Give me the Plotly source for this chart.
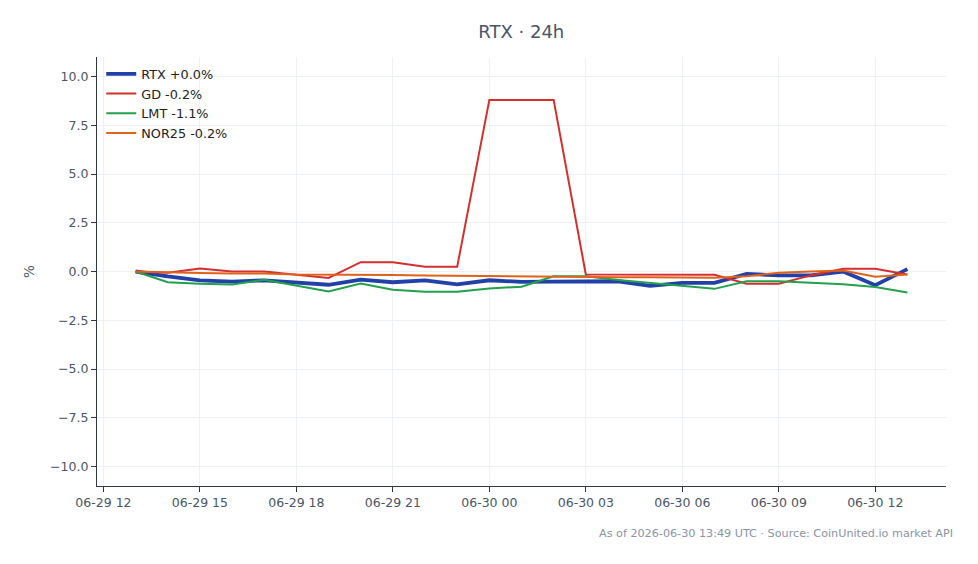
import plotly.graph_objects as go
import pandas as pd

times = pd.date_range("2026-06-29 13:00", "2026-06-30 13:00", freq="h")

rtx = [0, -0.25, -0.45, -0.52, -0.45, -0.55, -0.68, -0.42, -0.55, -0.46, -0.66, -0.45, -0.53,
       -0.52, -0.5, -0.5, -0.74, -0.58, -0.58, -0.12, -0.2, -0.2, 0.0, -0.7, 0.12]
gd = [0, -0.06, 0.15, 0.0, 0.0, -0.17, -0.33, 0.48, 0.48, 0.24, 0.24, 8.8, 8.8, 8.8,
      -0.15, -0.15, -0.15, -0.17, -0.17, -0.63, -0.63, -0.2, 0.14, 0.14, -0.15]
lmt = [0, -0.55, -0.63, -0.67, -0.42, -0.72, -1.03, -0.62, -0.93, -1.04, -1.04, -0.87, -0.78,
       -0.24, -0.24, -0.44, -0.6, -0.75, -0.89, -0.5, -0.5, -0.58, -0.66, -0.8, -1.08]
nor25 = [0, -0.05, -0.08, -0.1, -0.1, -0.15, -0.15, -0.18, -0.18, -0.2, -0.22, -0.22, -0.25,
         -0.25, -0.28, -0.3, -0.3, -0.32, -0.32, -0.24, -0.07, 0.0, 0.05, -0.27, -0.15]

series = [
    ("RTX +0.0%", rtx, "#2140a8", 3.8),
    ("GD -0.2%", gd, "#d32f2f", 2.0),
    ("LMT -1.1%", lmt, "#22a04b", 2.0),
    ("NOR25 -0.2%", nor25, "#e0621a", 2.0),
]

title_text = "RTX · 24h"
footnote = "As of 2026-06-30 13:49 UTC · Source: CoinUnited.io market API"

fig = go.Figure()
for name, vals, color, w in series:
    fig.add_trace(go.Scatter(x=times, y=vals, mode="lines", name=name,
                             line=dict(color=color, width=w)))

fig.add_shape(type="line", xref="paper", x0=0, x1=1, yref="y", y0=0, y1=0,
              line=dict(color="#8c96aa", width=1, dash="dash"), layer="below")

font = "DejaVu Sans, sans-serif"
fig.update_layout(
    width=978, height=564,
    margin=dict(l=97, r=32, t=57, b=78),
    paper_bgcolor="white", plot_bgcolor="white",
    font=dict(family=font, size=12.5, color="#4a5568"),
    title=dict(text=title_text, x=0.533, xanchor="center", y=0.943, yanchor="middle",
               font=dict(size=18, color="#4a5568")),
    showlegend=True,
    legend=dict(x=0.005, y=0.995, xanchor="left", yanchor="top", bgcolor="rgba(0,0,0,0)",
                font=dict(size=12.8, color="#222222"), tracegroupgap=0),
    xaxis=dict(
        range=["2026-06-29 11:48", "2026-06-30 14:12"],
        tickformat="%m-%d %H", dtick=3 * 3600 * 1000, tick0="2026-06-29 12:00",
        showgrid=True, gridcolor="#edf0f4", gridwidth=1,
        showline=True, linecolor="#2d3748", linewidth=1.2, mirror=False,
        ticks="outside", ticklen=5, tickcolor="#2d3748",
        zeroline=False, tickfont=dict(size=12.5, color="#4a5568"),
    ),
    yaxis=dict(
        range=[-11, 11], dtick=2.5, tick0=0, tickformat=".1f",
        showgrid=True, gridcolor="#edf0f4", gridwidth=1,
        showline=True, linecolor="#2d3748", linewidth=1.2, mirror=False,
        ticks="outside", ticklen=5, tickcolor="#2d3748",
        zeroline=False, tickfont=dict(size=12.5, color="#4a5568"),
        title=dict(text="%", font=dict(size=13.5, color="#4a5568"), standoff=12),
    ),
)

fig.add_annotation(text=footnote, xref="paper", yref="paper", x=1.0106, y=-0.11,
                   xanchor="right", yanchor="middle", showarrow=False,
                   font=dict(size=11.2, color="#8a94a6"))

fig.write_html("out.html")
